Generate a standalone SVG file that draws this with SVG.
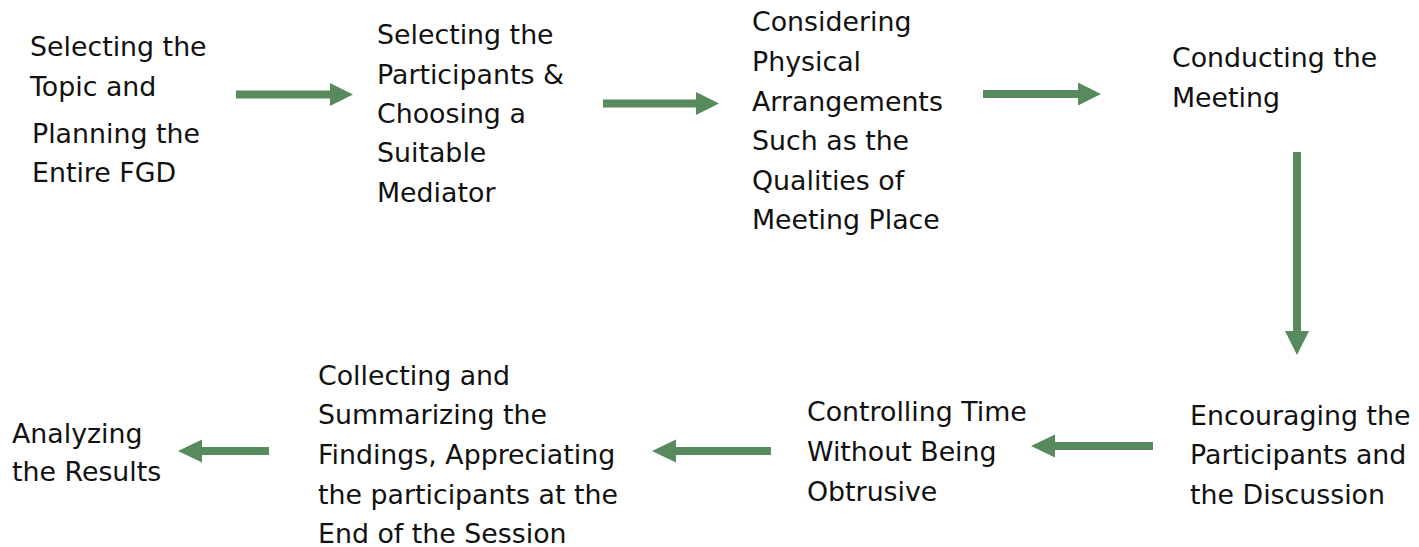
<svg xmlns="http://www.w3.org/2000/svg" width="1419" height="547" viewBox="0 0 1419 547">
<style>
.t{font-family:"DejaVu Sans","Liberation Sans",sans-serif;font-size:26.8px;fill:#111}
.a{fill:#578A5C}
</style>
<rect width="1419" height="547" fill="#fff"/>
<g id="connectors">
<polygon class="a" points="236,90.5 330,90.5 330,83 353,94.5 330,106 330,98.5 236,98.5"/>
<polygon class="a" points="603,99.5 696,99.5 696,92 719,103.5 696,115 696,107.5 603,107.5"/>
<polygon class="a" points="983,90 1078,90 1078,82.5 1101,94 1078,105.5 1078,98 983,98"/>
<polygon class="a" points="1293,152 1301,152 1301,331 1309,331 1297,355 1285,331 1293,331"/>
<polygon class="a" points="1153,442 1055,442 1055,434.5 1031,446 1055,457.5 1055,450 1153,450"/>
<polygon class="a" points="771,447 676,447 676,439.5 652,451 676,462.5 676,455 771,455"/>
<polygon class="a" points="269,447 202,447 202,439.5 178,451 202,462.5 202,455 269,455"/>
</g>
<g id="n1">
<text class="t" x="30" y="56">Selecting the</text>
<text class="t" x="30" y="96">Topic and</text>
<text class="t" x="32" y="143">Planning the</text>
<text class="t" x="32" y="182">Entire FGD</text>
</g>
<g id="n2">
<text class="t" x="377" y="44">Selecting the</text>
<text class="t" x="377" y="84">Participants &amp;</text>
<text class="t" x="377" y="123">Choosing a</text>
<text class="t" x="377" y="162">Suitable</text>
<text class="t" x="377" y="202">Mediator</text>
</g>
<g id="n3">
<text class="t" x="752" y="31">Considering</text>
<text class="t" x="752" y="71">Physical</text>
<text class="t" x="752" y="111">Arrangements</text>
<text class="t" x="752" y="150">Such as the</text>
<text class="t" x="752" y="190">Qualities of</text>
<text class="t" x="752" y="229">Meeting Place</text>
</g>
<g id="n4">
<text class="t" x="1172" y="67">Conducting the</text>
<text class="t" x="1172" y="107">Meeting</text>
</g>
<g id="n5">
<text class="t" x="1190" y="425">Encouraging the</text>
<text class="t" x="1190" y="464">Participants and</text>
<text class="t" x="1190" y="504">the Discussion</text>
</g>
<g id="n6">
<text class="t" x="807" y="421">Controlling Time</text>
<text class="t" x="807" y="461">Without Being</text>
<text class="t" x="807" y="501">Obtrusive</text>
</g>
<g id="n7">
<text class="t" x="318" y="385">Collecting and</text>
<text class="t" x="318" y="424">Summarizing the</text>
<text class="t" x="318" y="464">Findings, Appreciating</text>
<text class="t" x="318" y="504">the participants at the</text>
<text class="t" x="318" y="543">End of the Session</text>
</g>
<g id="n8">
<text class="t" x="12" y="443">Analyzing</text>
<text class="t" x="12" y="481">the Results</text>
</g>
</svg>
